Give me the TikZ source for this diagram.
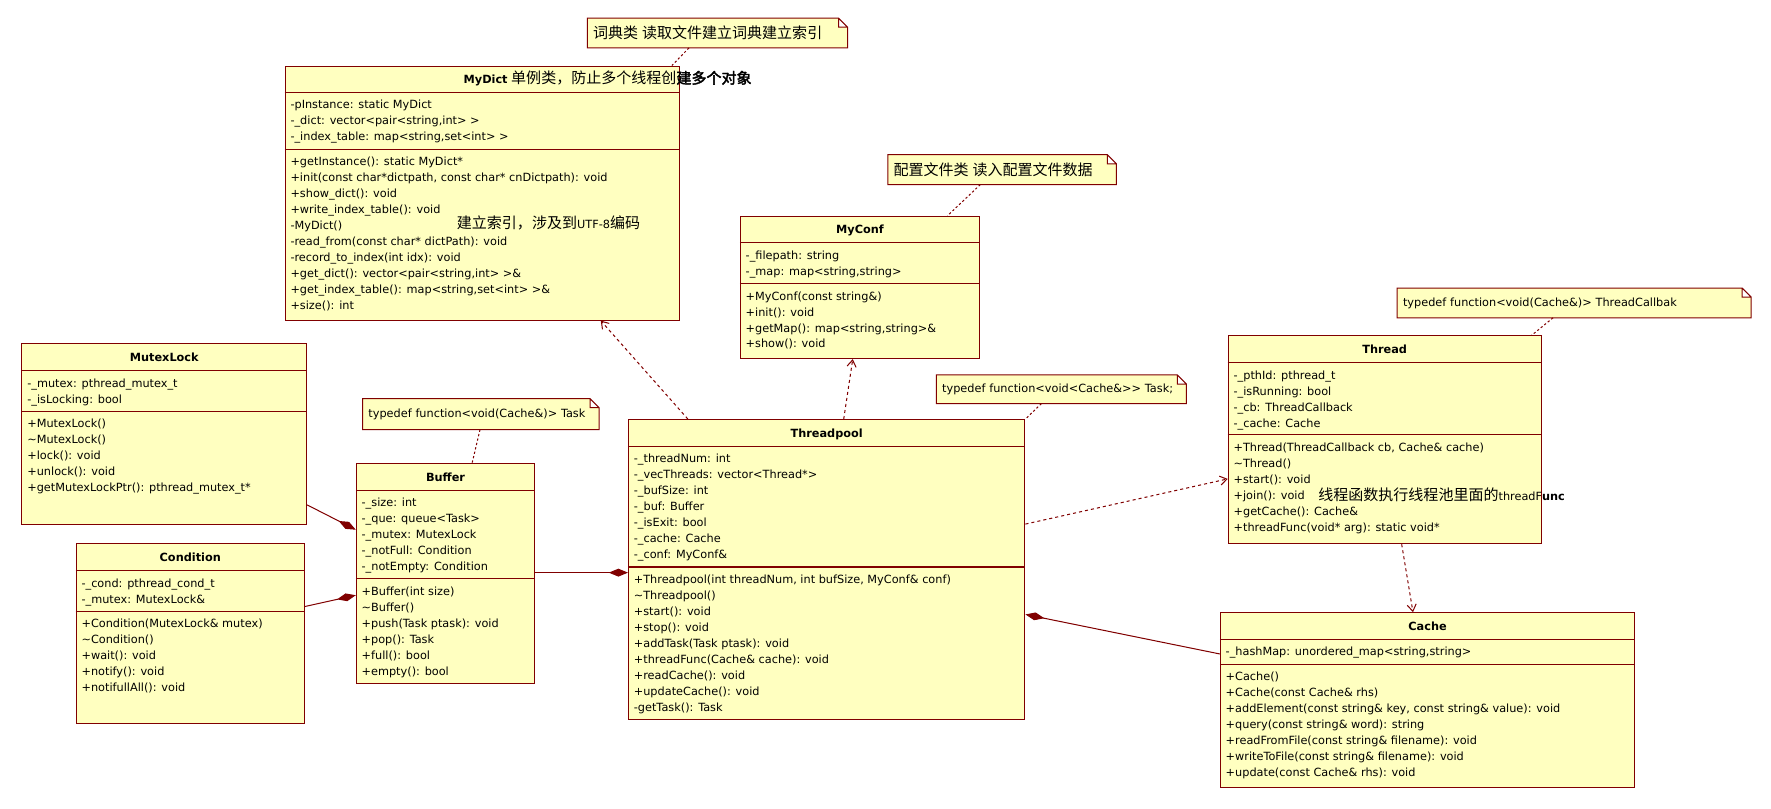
\documentclass[tikz,border=0pt]{standalone}
\usepackage{fontspec}
\setmainfont{DejaVu Sans}
\newfontfamily\cjk[Scale=1.33]{Noto Sans CJK SC}
\newfontfamily\cjkbold[Scale=1.33,FakeBold=2.5]{Noto Sans CJK SC}
\usetikzlibrary{arrows.meta,backgrounds}
\definecolor{umlred}{RGB}{128,0,0}
\definecolor{umlfill}{RGB}{255,255,192}

\begin{document}
\begin{tikzpicture}[x=1pt, y=-1pt,
  font=\fontsize{10}{14.1}\selectfont,
  umlline/.style={draw=umlred, line width=0.9pt},
  classbox/.style={umlline, fill=umlfill, anchor=north west, inner sep=0},
  classname/.style={font=\bfseries, anchor=base},
  members/.style={anchor=north west, inner sep=0, align=left},
  notebox/.style={anchor=north west, inner xsep=5pt, inner ysep=0, minimum height=26pt, align=left},
  notelink/.style={umlline, dash pattern=on 2pt off 2pt},
  depends/.style={umlline, dash pattern=on 2.7pt off 2.7pt, -{Straight Barb[length=6pt,width=8pt]}},
  owns/.style={umlline, -{Diamond[length=17pt,width=7pt]}}]
  \useasboundingbox (0,0) rectangle (1568,716.2);

  % Notes
  \node[notebox, text width=220pt] (note1) at (520,16) {{\cjk 词典类 读取文件建立词典建立索引}};
  \node[notebox, text width=192pt] (note2) at (786,137) {{\cjk 配置文件类 读入配置文件数据}};
  \node[notebox, text width=303pt] (note3) at (1237,255) {typedef function<void(Cache\&)> ThreadCallbak};
  \node[notebox, text width=199pt, minimum height=27pt] (note4) at (321,353) {typedef function<void(Cache\&)> Task};
  \node[notebox, text width=211pt, minimum height=25pt] (note5) at (829,332) {typedef function<void<Cache\&>{}> Task;};
  \begin{scope}[on background layer]
    \foreach \n in {note1,note2,note3,note4,note5}
      \draw[umlline, fill=umlfill] (\n.north west) -- ([xshift=-8pt]\n.north east)
        -- ([yshift=-8pt]\n.north east) -- (\n.south east) -- (\n.south west) -- cycle
        ([xshift=-8pt]\n.north east) |- ([yshift=-8pt]\n.north east);
  \end{scope}

  % MyDict
  \node[classbox, minimum width=349pt, minimum height=225pt] (mydict) at (252,58) {};
  \node[anchor=base west] at (407,74) {\textbf{MyDict} {\cjk 单例类，防止多个线程创}{\cjkbold 建多个对象}};
  \node[members] at (257,88) {-pInstance: static MyDict\\
    -\_dict: vector<pair<string,int> >\\
    -\_index\_table: map<string,set<int> >};
  \node[members] at (257,139) {+getInstance(): static MyDict*\\
    +init(const char*dictpath, const char* cnDictpath): void\\
    +show\_dict(): void\\
    +write\_index\_table(): void\\
    -MyDict()\\
    -read\_from(const char* dictPath): void\\
    -record\_to\_index(int idx): void\\
    +get\_dict(): vector<pair<string,int> >\&\\
    +get\_index\_table(): map<string,set<int> >\&\\
    +size(): int};
  \node[anchor=west] at (401,197) {{\cjk 建立索引，涉及到}UTF-8{\cjk 编码}};

  % MyConf
  \node[classbox, minimum width=212pt, minimum height=126pt] (myconf) at (655,191) {};
  \node[classname] at ([yshift=-16pt]myconf.north) {MyConf};
  \node[members] at (660,222) {-\_filepath: string\\
    -\_map: map<string,string>};
  \node[members] at (660,258) {+MyConf(const string\&)\\
    +init(): void\\
    +getMap(): map<string,string>\&\\
    +show(): void};

  % Thread
  \node[classbox, minimum width=277pt, minimum height=184pt] (thread) at (1087,297) {};
  \node[classname] at ([yshift=-16pt]thread.north) {Thread};
  \node[members] at (1092,328) {-\_pthId: pthread\_t\\
    -\_isRunning: bool\\
    -\_cb: ThreadCallback\\
    -\_cache: Cache};
  \node[members] at (1092,392) {+Thread(ThreadCallback cb, Cache\& cache)\\
    \textasciitilde Thread()\\
    +start(): void\\
    +join(): void\\
    +getCache(): Cache\&\\
    +threadFunc(void* arg): static void*};
  \node[anchor=west, inner sep=0] at (1167,438) {{\cjk 线程函数执行线程池里面的}threadF\textbf{unc}};

  % MutexLock
  \node[classbox, minimum width=252pt, minimum height=160pt] (mutexlock) at (19,304) {};
  \node[classname] at ([yshift=-16pt]mutexlock.north) {MutexLock};
  \node[members] at (24,335) {-\_mutex: pthread\_mutex\_t\\
    -\_isLocking: bool};
  \node[members] at (24,371) {+MutexLock()\\
    \textasciitilde MutexLock()\\
    +lock(): void\\
    +unlock(): void\\
    +getMutexLockPtr(): pthread\_mutex\_t*};

  % Threadpool
  \node[classbox, minimum width=351pt, minimum height=266pt] (threadpool) at (556,371) {};
  \node[classname] at ([yshift=-16pt]threadpool.north) {Threadpool};
  \node[members] at (561,402) {-\_threadNum: int\\
    -\_vecThreads: vector<Thread*>\\
    -\_bufSize: int\\
    -\_buf: Buffer\\
    -\_isExit: bool\\
    -\_cache: Cache\\
    -\_conf: MyConf\&};
  \node[members] at (561,509) {+Threadpool(int threadNum, int bufSize, MyConf\& conf)\\
    \textasciitilde Threadpool()\\
    +start(): void\\
    +stop(): void\\
    +addTask(Task ptask): void\\
    +threadFunc(Cache\& cache): void\\
    +readCache(): void\\
    +updateCache(): void\\
    -getTask(): Task};

  % Buffer
  \node[classbox, minimum width=158pt, minimum height=195pt] (buffer) at (315,410) {};
  \node[classname] at ([yshift=-16pt]buffer.north) {Buffer};
  \node[members] at (320,441) {-\_size: int\\
    -\_que: queue<Task>\\
    -\_mutex: MutexLock\\
    -\_notFull: Condition\\
    -\_notEmpty: Condition};
  \node[members] at (320,519.5) {+Buffer(int size)\\
    \textasciitilde Buffer()\\
    +push(Task ptask): void\\
    +pop(): Task\\
    +full(): bool\\
    +empty(): bool};

  % Condition
  \node[classbox, minimum width=202pt, minimum height=159pt] (condition) at (67,481) {};
  \node[classname] at ([yshift=-16pt]condition.north) {Condition};
  \node[members] at (72,512) {-\_cond: pthread\_cond\_t\\
    -\_mutex: MutexLock\&};
  \node[members] at (72,548) {+Condition(MutexLock\& mutex)\\
    \textasciitilde Condition()\\
    +wait(): void\\
    +notify(): void\\
    +notifullAll(): void};

  % Cache
  \node[classbox, minimum width=367pt, minimum height=155pt] (cache) at (1080,542) {};
  \node[classname] at ([yshift=-16pt]cache.north) {Cache};
  \node[members] at (1085,573) {-\_hashMap: unordered\_map<string,string>};
  \node[members] at (1085,595) {+Cache()\\
    +Cache(const Cache\& rhs)\\
    +addElement(const string\& key, const string\& value): void\\
    +query(const string\& word): string\\
    +readFromFile(const string\& filename): void\\
    +writeToFile(const string\& filename): void\\
    +update(const Cache\& rhs): void};

  % Compartment lines
  \foreach \c/\a/\b in {mydict/24/74, myconf/24/60, thread/24/88, mutexlock/24/60,
      threadpool/24/131, buffer/24/102.5, condition/24/60, cache/24/46}
    \draw[umlline] ([yshift=-\a pt]\c.north west) -- ([yshift=-\a pt]\c.north east)
      ([yshift=-\b pt]\c.north west) -- ([yshift=-\b pt]\c.north east);

  % Note links
  \draw[notelink] ([xshift=90pt]note1.south west) -- ([xshift=-7pt]mydict.north east);
  \draw[notelink] ([xshift=82pt]note2.south west) -- ([xshift=-29pt]myconf.north east);
  \draw[notelink] ([xshift=138pt]note3.south west) -- ([xshift=-9pt]thread.north east);
  \draw[notelink] ([xshift=93pt]note5.south west) -- (threadpool.north east);
  \draw[notelink] ([xshift=104pt]note4.south west) -- ([xshift=103pt]buffer.north west);

  % Dependencies
  \draw[depends] ([xshift=53pt]threadpool.north west) -- ([xshift=-70pt]mydict.south east);
  \draw[depends] ([xshift=191pt]threadpool.north west) -- ([xshift=100pt]myconf.south west);
  \draw[depends] ([yshift=-93pt]threadpool.north east) -- ([yshift=-127pt]thread.north west);
  \draw[depends] ([xshift=154pt]thread.south west) -- ([xshift=171pt]cache.north west);

  % Compositions
  \draw[owns] ([yshift=-143pt]mutexlock.north east) -- ([yshift=-59pt]buffer.north west);
  \draw[owns] ([yshift=-56pt]condition.north east) -- ([yshift=-117pt]buffer.north west);
  \draw[owns] ([yshift=-97pt]buffer.north east) -- ([yshift=-136pt]threadpool.north west);
  \draw[owns] ([yshift=-37pt]cache.north west) -- ([yshift=-173pt]threadpool.north east);
\end{tikzpicture}
\end{document}
